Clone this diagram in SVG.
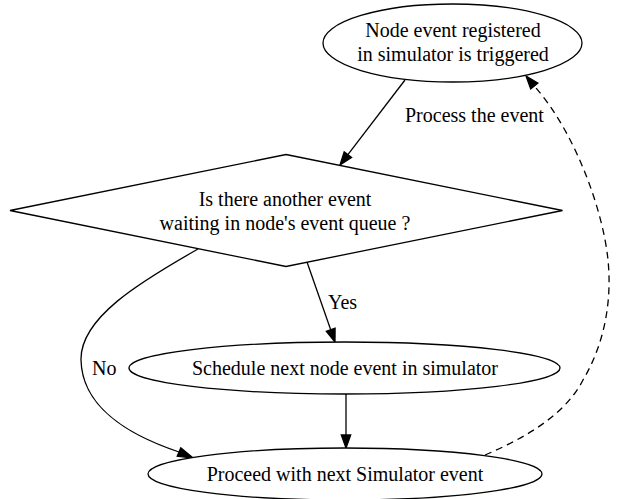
<svg xmlns="http://www.w3.org/2000/svg" width="636" height="499" viewBox="0 0 636 499">
<style>
.shape{fill:#fff;stroke:#000;stroke-width:1.3}
.edge{fill:none;stroke:#000;stroke-width:1.3}
.dash{stroke-dasharray:7,5}
.head{fill:#000;stroke:#000;stroke-width:1.3}
text{font-family:"Liberation Serif","Times New Roman",serif;font-size:20px;fill:#000}
.c{text-anchor:middle}
</style>
<rect width="636" height="499" fill="#fff"/>
<g id="connectors">
  <path class="edge" d="M405,80 L347.9,154.7"/>
  <polygon class="head" points="340,165 344.2,151.8 351.6,157.5"/>
  <text x="405" y="122">Process the event</text>
  <path class="edge" d="M307,262 L330.7,329.7"/>
  <polygon class="head" points="335,342 326.3,331.2 335.1,328.2"/>
  <text x="328" y="309">Yes</text>
  <path class="edge" d="M198,249 C140,282 80,318 81,360 C82,405 125,434 179,452"/>
  <polygon class="head" points="193,458 177.2,456.3 180.8,447.7"/>
  <text x="92" y="375">No</text>
  <path class="edge" d="M346,394 L346,435"/>
  <polygon class="head" points="346,448 341.3,435 350.7,435"/>
  <path class="edge dash" d="M485,455 C525,438 565,415 583,380 C605,343 612,300 608,260 C603,210 575,132 534.3,86"/>
  <polygon class="head" points="526,76 537.9,83 530.7,89"/>
</g>
<g id="node-triggered">
  <ellipse class="shape" cx="452.5" cy="43" rx="129.5" ry="39"/>
  <text class="c" x="453" y="37">Node event registered</text>
  <text class="c" x="453" y="60.5">in simulator is triggered</text>
</g>
<g id="node-decision">
  <polygon class="shape" points="286,154.5 562.5,210.5 286,266.5 10,210.5"/>
  <text class="c" x="285" y="206">Is there another event</text>
  <text class="c" x="285" y="229.5">waiting in node's event queue ?</text>
</g>
<g id="node-schedule">
  <ellipse class="shape" cx="344.5" cy="368" rx="215.5" ry="26"/>
  <text class="c" x="345" y="375">Schedule next node event in simulator</text>
</g>
<g id="node-proceed">
  <ellipse class="shape" cx="345" cy="474" rx="197" ry="26"/>
  <text class="c" x="345" y="481">Proceed with next Simulator event</text>
</g>
</svg>
